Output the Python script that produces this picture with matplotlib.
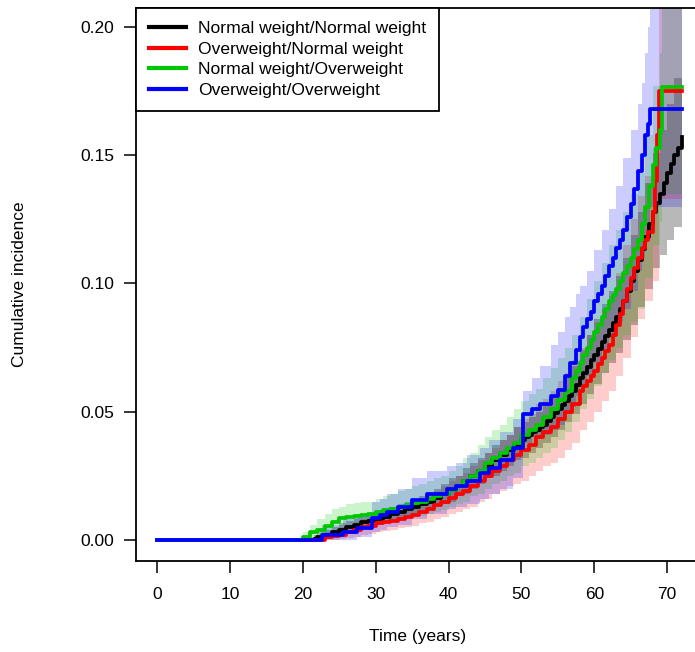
import matplotlib
matplotlib.use("Agg")
import matplotlib.pyplot as plt

# cumulative incidence curves (time in years)
# Normal weight/Normal weight
nn_time = [0, 21.5, 22, 23, 24, 25, 26, 27, 28, 29, 30, 31, 32, 33, 34, 35, 36, 37, 38, 39, 40,
           41, 42, 43, 44, 45, 46, 47, 48, 49, 50, 50.5, 51, 51.5, 52, 52.5, 53, 53.5, 54, 54.5,
           55, 55.5, 56, 56.5, 57, 57.5, 58, 58.5, 59, 59.5, 60, 60.5, 61, 61.5, 62, 62.5, 63,
           63.5, 64, 64.5, 65, 65.5, 66, 66.5, 67, 67.5, 68, 68.5, 69, 69.5, 70, 70.5, 71, 71.5, 72]
nn_est = [0, 0.0005, 0.001, 0.002, 0.003, 0.004, 0.005, 0.006, 0.007, 0.0075, 0.0083, 0.009, 0.010,
          0.011, 0.012, 0.013, 0.014, 0.015, 0.0165, 0.018, 0.0195, 0.021, 0.023, 0.025, 0.027,
          0.029, 0.031, 0.033, 0.035, 0.037, 0.039, 0.040, 0.041, 0.042, 0.043, 0.044, 0.045,
          0.0465, 0.048, 0.0495, 0.051, 0.0525, 0.054, 0.056, 0.058, 0.0605, 0.063, 0.065, 0.0675,
          0.070, 0.072, 0.0745, 0.077, 0.0795, 0.082, 0.0845, 0.087, 0.090, 0.093, 0.097, 0.101,
          0.105, 0.109, 0.1135, 0.118, 0.123, 0.128, 0.1315, 0.135, 0.139, 0.143, 0.1465, 0.150,
          0.153, 0.157]
nn_ci_time = [0, 21.5, 22, 23, 24, 25, 26, 27, 28, 29, 30, 31, 32, 33, 34, 35, 36, 37, 38, 39, 40,
              41, 42, 43, 44, 45, 46, 47, 48, 49, 50, 51, 52, 53, 54, 55, 56, 57, 58, 59, 60,
              61, 62, 63, 64, 65, 66, 67, 68, 69, 70, 71, 72]
nn_lo = [0, 0, 0, 0.0005, 0.001, 0.002, 0.003, 0.0035, 0.0045, 0.005, 0.0058, 0.0065, 0.0072,
         0.008, 0.009, 0.010, 0.011, 0.012, 0.013, 0.014, 0.015, 0.017, 0.018, 0.020, 0.022,
         0.024, 0.025, 0.027, 0.029, 0.031, 0.032, 0.034, 0.036, 0.038, 0.040, 0.043, 0.046,
         0.049, 0.053, 0.057, 0.061, 0.065, 0.069, 0.073, 0.078, 0.084, 0.091, 0.098, 0.106,
         0.111, 0.117, 0.122, 0.127]
nn_hi = [0, 0.002, 0.003, 0.004, 0.005, 0.0065, 0.0075, 0.0085, 0.0095, 0.010, 0.011, 0.012, 0.013,
         0.014, 0.015, 0.016, 0.017, 0.018, 0.020, 0.022, 0.024, 0.025, 0.028, 0.030, 0.032,
         0.034, 0.037, 0.039, 0.041, 0.044, 0.046, 0.048, 0.050, 0.053, 0.056, 0.059, 0.063,
         0.068, 0.074, 0.080, 0.086, 0.092, 0.097, 0.103, 0.110, 0.119, 0.128, 0.139, 0.151,
         0.160, 0.170, 0.180, 0.188]

# Overweight/Normal weight
on_time = [0, 23, 24, 25, 26, 27, 28, 29, 30, 31, 32, 33, 34, 35, 36, 37, 38, 39, 40, 41, 42,
           43, 44, 45, 46, 47, 48, 49, 50, 51, 52, 53, 54, 55, 56, 57, 58, 58.5, 59, 59.5, 60,
           60.5, 61, 61.5, 62, 62.5, 63, 63.5, 64, 64.5, 65, 65.5, 66, 66.5, 67, 67.3, 68.1,
           68.3, 68.6, 68.9, 72]
on_est = [0, 0.001, 0.0015, 0.002, 0.003, 0.004, 0.005, 0.0055, 0.0066, 0.007, 0.0075, 0.008,
          0.009, 0.0097, 0.011, 0.012, 0.0135, 0.015, 0.0165, 0.018, 0.019, 0.021, 0.023, 0.025,
          0.027, 0.029, 0.031, 0.033, 0.035, 0.037, 0.040, 0.042, 0.044, 0.047, 0.050, 0.053,
          0.058, 0.060, 0.062, 0.064, 0.066, 0.0685, 0.071, 0.0735, 0.076, 0.080, 0.084, 0.088,
          0.093, 0.098, 0.102, 0.106, 0.110, 0.114, 0.117, 0.120, 0.128, 0.140, 0.158, 0.175, 0.175]
on_ci_time = [0, 23, 24, 25, 26, 27, 28, 29, 30, 31, 32, 33, 34, 35, 36, 37, 38, 39, 40, 41, 42,
              43, 44, 45, 46, 47, 48, 49, 50, 51, 52, 53, 54, 55, 56, 57, 58, 59, 60, 61, 62, 63,
              64, 65, 66, 67, 68, 68.9, 72]
on_lo = [0, 0, 0, 0.0003, 0.0008, 0.0013, 0.002, 0.0025, 0.003, 0.0035, 0.004, 0.0045, 0.005,
         0.0055, 0.0065, 0.007, 0.008, 0.009, 0.010, 0.011, 0.012, 0.013, 0.015, 0.016, 0.018,
         0.019, 0.021, 0.022, 0.023, 0.025, 0.027, 0.029, 0.030, 0.032, 0.035, 0.038, 0.043,
         0.046, 0.050, 0.054, 0.058, 0.064, 0.071, 0.079, 0.086, 0.093, 0.101, 0.133, 0.133]
on_hi = [0, 0.003, 0.004, 0.005, 0.006, 0.007, 0.008, 0.009, 0.010, 0.011, 0.0115, 0.012, 0.013,
         0.014, 0.016, 0.017, 0.019, 0.021, 0.023, 0.025, 0.026, 0.029, 0.031, 0.034, 0.036,
         0.039, 0.041, 0.044, 0.047, 0.049, 0.053, 0.055, 0.058, 0.062, 0.065, 0.070, 0.075,
         0.080, 0.085, 0.090, 0.095, 0.104, 0.115, 0.125, 0.134, 0.142, 0.153, 0.215, 0.215]

# Normal weight/Overweight
no_time = [0, 20, 21, 22, 23, 24, 25, 26, 27, 28, 29, 30, 31, 32, 33, 34, 35, 36, 37, 38, 39,
           40, 41, 42, 43, 44, 45, 46, 47, 48, 49, 50, 51, 52, 53, 54, 55, 56, 57, 57.5, 58,
           58.5, 59, 59.5, 60, 60.5, 61, 61.5, 62, 62.5, 63, 63.5, 64, 64.5, 65, 65.5, 66, 66.5,
           67, 67.5, 68, 68.5, 69, 69.3, 72]
no_est = [0, 0.001, 0.003, 0.004, 0.0055, 0.007, 0.0086, 0.009, 0.0093, 0.0097, 0.010, 0.011,
          0.0115, 0.012, 0.013, 0.0137, 0.0144, 0.015, 0.016, 0.017, 0.018, 0.0195, 0.021, 0.023,
          0.025, 0.027, 0.030, 0.032, 0.034, 0.036, 0.038, 0.041, 0.043, 0.045, 0.048, 0.051,
          0.0546, 0.058, 0.063, 0.066, 0.069, 0.072, 0.075, 0.078, 0.081, 0.084, 0.087, 0.090,
          0.093, 0.0955, 0.098, 0.101, 0.104, 0.107, 0.110, 0.1135, 0.117, 0.123, 0.130, 0.138,
          0.146, 0.153, 0.160, 0.1765, 0.1765]
no_ci_time = [0, 20, 21, 22, 23, 24, 25, 26, 27, 28, 29, 30, 31, 32, 33, 34, 35, 36, 37, 38, 39,
              40, 41, 42, 43, 44, 45, 46, 47, 48, 49, 50, 51, 52, 53, 54, 55, 56, 57, 58, 59, 60,
              61, 62, 63, 64, 65, 66, 67, 68, 69, 69.3, 72]
no_lo = [0, 0, 0.0005, 0.001, 0.002, 0.003, 0.004, 0.005, 0.0053, 0.0056, 0.006, 0.0068, 0.007,
         0.0075, 0.008, 0.0085, 0.009, 0.0095, 0.010, 0.011, 0.0115, 0.013, 0.014, 0.015, 0.017,
         0.018, 0.020, 0.022, 0.023, 0.025, 0.026, 0.029, 0.030, 0.032, 0.034, 0.036, 0.039,
         0.042, 0.046, 0.051, 0.055, 0.060, 0.065, 0.070, 0.075, 0.080, 0.085, 0.090, 0.102,
         0.115, 0.124, 0.135, 0.135]
no_hi = [0, 0.003, 0.006, 0.008, 0.010, 0.012, 0.013, 0.014, 0.0145, 0.015, 0.015, 0.016, 0.017,
         0.018, 0.019, 0.020, 0.021, 0.022, 0.023, 0.024, 0.025, 0.027, 0.029, 0.032, 0.034,
         0.037, 0.040, 0.043, 0.045, 0.048, 0.051, 0.054, 0.057, 0.059, 0.063, 0.067, 0.071,
         0.075, 0.080, 0.087, 0.094, 0.101, 0.108, 0.115, 0.121, 0.128, 0.135, 0.143, 0.158,
         0.177, 0.190, 0.215, 0.215]

# Overweight/Overweight
oo_time = [0, 22.6, 25.5, 27.4, 29.5, 30.6, 31.5, 33, 35, 37, 39.8, 41, 42.5, 44.3, 45.5, 47,
           48.9, 50.2, 51.5, 52.6, 54, 55, 56, 56.7, 57.5, 58, 58.5, 59, 59.5, 60, 60.5, 61,
           61.5, 62, 62.5, 63, 63.5, 64, 64.5, 65, 65.5, 66, 66.5, 67, 67.4, 67.7, 72]
oo_est = [0, 0.002, 0.003, 0.0046, 0.0086, 0.0097, 0.011, 0.013, 0.0156, 0.018, 0.020, 0.021,
          0.023, 0.026, 0.028, 0.031, 0.036, 0.049, 0.051, 0.053, 0.056, 0.0585, 0.064, 0.069,
          0.074, 0.079, 0.083, 0.086, 0.089, 0.093, 0.096, 0.099, 0.103, 0.107, 0.110, 0.114,
          0.117, 0.121, 0.126, 0.131, 0.137, 0.144, 0.150, 0.158, 0.162, 0.168, 0.168]
oo_ci_time = [0, 22.6, 25.5, 27.4, 29.5, 30.6, 31.5, 33, 35, 37, 39.8, 41, 42.5, 44.3, 45.5, 47,
              48.9, 50.2, 51.5, 52.6, 54, 55, 56, 56.7, 57.5, 58, 59, 60, 61, 62, 63, 64, 65,
              66, 66.5, 67, 67.4, 67.7, 72]
oo_lo = [0, 0, 0, 0.001, 0.003, 0.004, 0.005, 0.006, 0.008, 0.010, 0.012, 0.013, 0.014, 0.016,
         0.018, 0.020, 0.024, 0.038, 0.040, 0.041, 0.043, 0.045, 0.049, 0.052, 0.056, 0.060,
         0.064, 0.069, 0.074, 0.079, 0.085, 0.090, 0.097, 0.105, 0.110, 0.116, 0.120, 0.130, 0.130]
oo_hi = [0, 0.006, 0.008, 0.010, 0.015, 0.016, 0.018, 0.020, 0.024, 0.027, 0.029, 0.030, 0.033,
         0.036, 0.039, 0.042, 0.047, 0.058, 0.063, 0.068, 0.076, 0.081, 0.087, 0.091, 0.096,
         0.099, 0.105, 0.113, 0.121, 0.129, 0.138, 0.149, 0.160, 0.170, 0.178, 0.190, 0.200,
         0.215, 0.215]

labels = ["Normal weight/Normal weight", "Overweight/Normal weight",
          "Normal weight/Overweight", "Overweight/Overweight"]
colors = ["#000000", "#FF0000", "#00C800", "#0000FF"]
band_alpha = [0.28, 0.2, 0.2, 0.2]

lines = [(nn_time, nn_est), (on_time, on_est), (no_time, no_est), (oo_time, oo_est)]
bands = [(nn_ci_time, nn_lo, nn_hi), (on_ci_time, on_lo, on_hi),
         (no_ci_time, no_lo, no_hi), (oo_ci_time, oo_lo, oo_hi)]

plt.rcParams["font.family"] = ["Liberation Sans", "DejaVu Sans"]

fig = plt.figure(figsize=(6.95, 6.52), dpi=100)
W, H = 695, 652
ax = fig.add_axes([136 / W, (H - 561) / H, (700 - 136) / W, (561 - 8) / H])

for (t, lo, hi), c, a in zip(bands, colors, band_alpha):
    ax.fill_between(t, lo, hi, step="post", color=c, alpha=a, linewidth=0)

for (t, est), c, lab in zip(lines, colors, labels):
    ax.step(t, est, where="post", color=c, linewidth=2.7, label=lab)

ax.set_xlim(-2.88, 74.5)
ax.set_ylim(-0.00819, 0.2074)
ax.set_xticks(range(0, 80, 10))
ax.set_yticks([0.0, 0.05, 0.10, 0.15, 0.20])
ax.set_yticklabels(["0.00", "0.05", "0.10", "0.15", "0.20"])
ax.tick_params(direction="out", length=8.5, width=1.1, labelsize=12.5, colors="black")
ax.tick_params(axis="x", pad=10)
ax.tick_params(axis="y", pad=7)
for s in ax.spines.values():
    s.set_linewidth(1.3)

ax.set_xlabel("Time (years)", fontsize=12.5, labelpad=19.5)
ax.set_ylabel("Cumulative incidence", fontsize=12.5)
ax.yaxis.set_label_coords(-0.193, 0.5)

leg = ax.legend(loc="upper left", bbox_to_anchor=(0, 1), borderaxespad=0, fontsize=12.6,
                fancybox=False, edgecolor="black", framealpha=1, handlelength=2.1,
                handletextpad=0.7, labelspacing=0.3, borderpad=0.75)
leg.get_frame().set_linewidth(1.3)
for line in leg.get_lines():
    line.set_linewidth(3)

fig.savefig("out.png", dpi=100)
